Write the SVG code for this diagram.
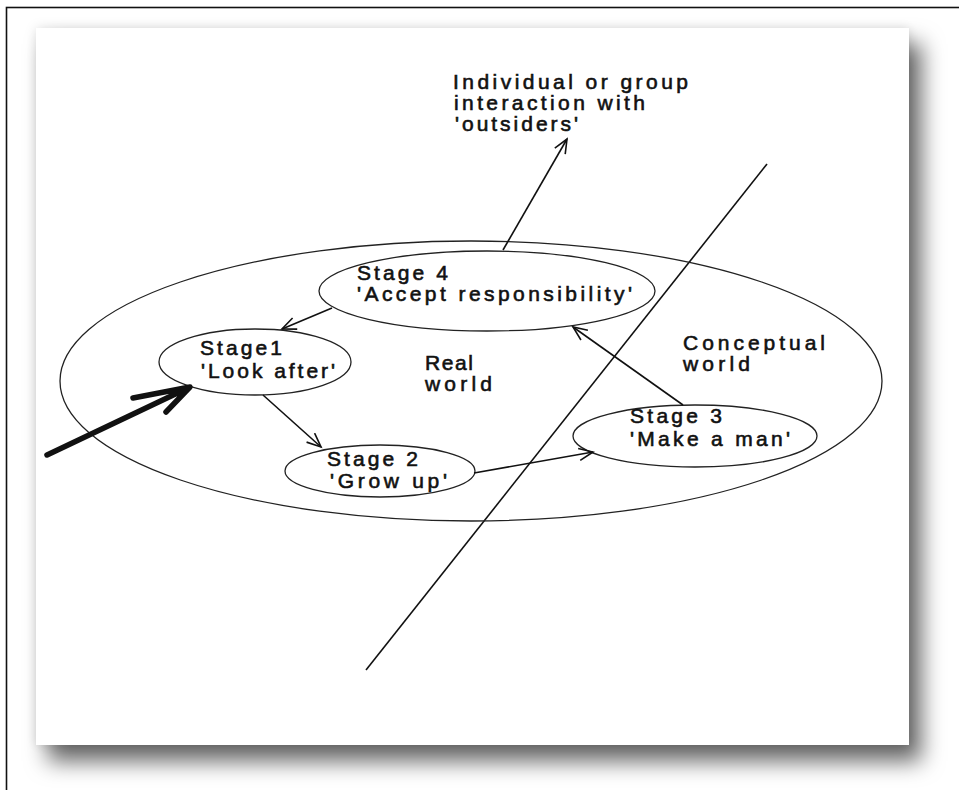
<svg xmlns="http://www.w3.org/2000/svg" width="959" height="790" viewBox="0 0 959 790">
<defs>
<style>
.el{fill:none;stroke:#222;stroke-width:1.3}
.ln{fill:none;stroke:#111;stroke-width:1.6}
.t{font-family:"Liberation Sans",Arial,sans-serif;font-size:21px;font-weight:normal;fill:#111;stroke:#111;stroke-width:0.6}
</style>
<filter id="sh" x="-10%" y="-10%" width="125%" height="130%">
<feDropShadow dx="0" dy="0" stdDeviation="6" flood-color="#000" flood-opacity="0.12"/>
<feDropShadow dx="12" dy="16" stdDeviation="11" flood-color="#000" flood-opacity="0.6"/>
</filter>
<marker id="ah" markerUnits="userSpaceOnUse" markerWidth="20" markerHeight="16" refX="15" refY="7" orient="auto">
<path d="M1,1 L15,7 L1,13" fill="none" stroke="#111" stroke-width="1.6"/>
</marker>
</defs>
<rect x="0" y="0" width="959" height="790" fill="#fff"/>
<rect x="6.5" y="7.5" width="960" height="800" fill="none" stroke="#111" stroke-width="1.6"/>
<rect id="card" x="36" y="28" width="873" height="717" fill="#fff" filter="url(#sh)"/>
<line id="divider" x1="767" y1="164" x2="366" y2="670" class="ln" stroke-width="1.3"/>
<g id="realm">
<ellipse cx="471" cy="381" rx="411" ry="140" class="el"/>
</g>
<g id="stage4">
<ellipse cx="487" cy="291" rx="168" ry="40" class="el"/>
<text class="t" x="357" y="280" textLength="91" lengthAdjust="spacing">Stage 4</text>
<text class="t" x="357" y="301" textLength="275" lengthAdjust="spacing">'Accept responsibility'</text>
</g>
<g id="stage1">
<ellipse cx="255" cy="362" rx="96" ry="33" class="el"/>
<text class="t" x="200" y="355" textLength="82" lengthAdjust="spacing">Stage1</text>
<text class="t" x="201" y="378" textLength="134" lengthAdjust="spacing">'Look after'</text>
</g>
<g id="stage2">
<ellipse cx="380" cy="471" rx="95" ry="26" class="el"/>
<text class="t" x="327" y="466" textLength="91" lengthAdjust="spacing">Stage 2</text>
<text class="t" x="330" y="488" textLength="117" lengthAdjust="spacing">'Grow up'</text>
</g>
<g id="stage3">
<ellipse cx="695" cy="436" rx="122" ry="31" class="el"/>
<text class="t" x="630" y="423" textLength="92" lengthAdjust="spacing">Stage 3</text>
<text class="t" x="630" y="446" textLength="160" lengthAdjust="spacing">'Make a man'</text>
</g>
<g id="labels">
<text class="t" x="453" y="89" textLength="235" lengthAdjust="spacing">Individual or group</text>
<text class="t" x="454" y="110" textLength="191" lengthAdjust="spacing">interaction with</text>
<text class="t" x="455" y="131" textLength="123" lengthAdjust="spacing">'outsiders'</text>
<text class="t" x="425" y="370" textLength="48" lengthAdjust="spacing">Real</text>
<text class="t" x="425" y="391" textLength="67" lengthAdjust="spacing">world</text>
<text class="t" x="683" y="350" textLength="142" lengthAdjust="spacing">Conceptual</text>
<text class="t" x="683" y="371" textLength="67" lengthAdjust="spacing">world</text>
</g>
<g id="connectors">
<line x1="503" y1="250" x2="567" y2="139" class="ln" marker-end="url(#ah)"/>
<line x1="332" y1="308" x2="282" y2="329" class="ln" marker-end="url(#ah)"/>
<line x1="263" y1="395" x2="321" y2="447" class="ln" marker-end="url(#ah)"/>
<line x1="474" y1="473" x2="593" y2="452" class="ln" marker-end="url(#ah)"/>
<line x1="683" y1="405" x2="573" y2="327" class="ln" marker-end="url(#ah)"/>
<path d="M47,455 L188,388 M133,398 L190,387 L166,412" fill="none" stroke="#111" stroke-width="5.5" stroke-linecap="round" stroke-linejoin="round"/>
</g>
</svg>
